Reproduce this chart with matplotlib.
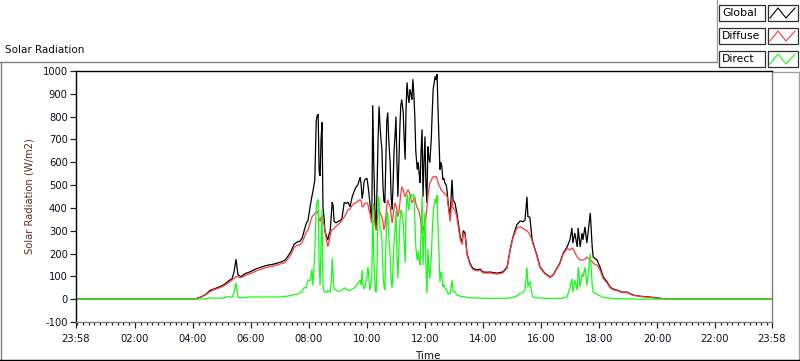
import matplotlib
matplotlib.use("Agg")
import matplotlib.pyplot as plt
from matplotlib.lines import Line2D
from matplotlib.patches import Rectangle
from matplotlib.ticker import FixedLocator, MultipleLocator

plt.rcParams["axes.unicode_minus"] = False

# minutes after midnight, readings of the three sensors (W/m2)
minutes = [-2, 240, 248, 259, 267, 275, 284, 292, 300, 308, 315, 321, 325, 329, 333, 339, 348, 356, 364, 372,
           381, 389, 397, 406, 414, 422, 430, 437, 443, 449, 455, 461, 466, 470, 474, 478, 482, 486, 488, 492,
           495, 497, 499, 501, 503, 505, 507, 509, 511, 513, 517, 519, 521, 524, 526, 528, 530, 532, 536, 540,
           544, 548, 553, 557, 561, 565, 569, 573, 577, 581, 586, 588, 590, 592, 594, 596, 600, 602, 604, 606,
           608, 610, 612, 614, 617, 619, 621, 623, 625, 627, 629, 631, 633, 635, 637, 639, 641, 643, 645, 648,
           650, 652, 654, 656, 658, 660, 662, 664, 666, 668, 670, 672, 675, 677, 679, 681, 683, 685, 687, 689,
           691, 693, 695, 697, 699, 701, 704, 706, 708, 710, 712, 714, 716, 718, 720, 722, 724, 726, 728, 730,
           733, 735, 737, 739, 741, 743, 745, 747, 749, 751, 753, 755, 757, 759, 761, 764, 766, 768, 772, 776,
           778, 782, 786, 788, 793, 797, 799, 803, 807, 813, 819, 828, 834, 840, 849, 855, 869, 881, 890, 896,
           902, 910, 917, 923, 927, 931, 933, 937, 941, 943, 948, 952, 958, 968, 979, 985, 993, 999, 1006, 1014,
           1020, 1024, 1026, 1030, 1035, 1037, 1041, 1045, 1047, 1051, 1055, 1060, 1062, 1066, 1068, 1072, 1076, 1082, 1089, 1097,
           1103, 1109, 1117, 1128, 1138, 1150, 1165, 1186, 1206, 1223, 1438]

global_rad = [0, 0, 3, 12, 22, 38, 45, 52, 58, 70, 82, 90, 120, 175, 108, 98, 112, 118, 126, 134,
              140, 146, 150, 153, 158, 163, 170, 190, 210, 240, 250, 254, 268, 300, 330, 345, 400, 450, 470, 520,
              780, 805, 810, 560, 540, 700, 775, 400, 360, 300, 270, 260, 280, 300, 360, 425, 410, 340, 335, 340,
              345, 350, 425, 420, 425, 405, 445, 470, 490, 500, 535, 500, 440, 470, 515, 525, 530, 500, 465, 420,
              380, 350, 850, 600, 340, 310, 500, 700, 845, 760, 700, 655, 500, 430, 422, 600, 780, 818, 700, 598,
              450, 392, 500, 650, 713, 800, 600, 449, 600, 750, 850, 875, 818, 700, 612, 850, 950, 890, 860, 920,
              900, 875, 964, 900, 800, 650, 568, 600, 550, 510, 650, 744, 449, 600, 713, 500, 422, 669, 620, 598,
              700, 818, 920, 950, 977, 960, 986, 832, 700, 568, 600, 581, 524, 530, 510, 500, 470, 420, 361, 524,
              436, 422, 378, 348, 273, 246, 300, 290, 200, 158, 135, 128, 132, 119, 118, 119, 114, 119, 141, 216,
              273, 326, 343, 339, 348, 449, 361, 360, 273, 250, 216, 190, 141, 114, 97, 106, 136, 158, 202, 229,
              260, 312, 246, 290, 229, 312, 229, 290, 260, 317, 246, 339, 378, 229, 185, 178, 172, 141, 97, 75,
              53, 45, 40, 31, 31, 18, 13, 9, 4, 0, 0]

diffuse_rad = [0, 0, 3, 11, 20, 33, 42, 48, 54, 64, 74, 84, 92, 100, 98, 94, 104, 110, 117, 125,
               131, 137, 142, 145, 150, 155, 160, 178, 197, 226, 236, 238, 250, 270, 292, 305, 330, 360, 365, 375,
               380, 385, 380, 350, 340, 360, 365, 340, 330, 300, 250, 230, 250, 280, 300, 305, 305, 310, 320, 326,
               335, 345, 360, 375, 392, 395, 410, 420, 422, 430, 436, 430, 405, 405, 415, 420, 422, 415, 390, 378,
               350, 334, 420, 410, 322, 300, 330, 390, 400, 378, 370, 360, 340, 304, 320, 360, 410, 436, 420, 405,
               370, 334, 360, 400, 422, 410, 390, 361, 380, 420, 460, 493, 480, 460, 449, 460, 470, 480, 470, 460,
               440, 422, 430, 440, 449, 420, 400, 392, 380, 361, 330, 290, 300, 320, 334, 360, 400, 449, 480, 510,
               520, 530, 537, 535, 537, 537, 530, 510, 500, 493, 480, 475, 470, 466, 462, 455, 449, 410, 340, 440,
               400, 390, 360, 330, 260, 240, 290, 280, 195, 152, 130, 124, 128, 115, 114, 115, 110, 115, 137, 212,
               268, 312, 317, 310, 304, 300, 295, 282, 262, 245, 212, 186, 138, 111, 95, 104, 133, 155, 198, 222,
               216, 224, 222, 205, 185, 180, 172, 172, 172, 175, 185, 175, 172, 165, 158, 152, 150, 128, 90, 70,
               50, 42, 38, 29, 29, 17, 12, 8, 4, 0, 0]

direct_rad = [0, 0, 0, 1, 2, 6, 4, 4, 5, 8, 12, 8, 30, 72, 10, 5, 8, 9, 10, 10,
              9, 10, 9, 10, 9, 10, 12, 14, 16, 20, 22, 26, 35, 52, 48, 85, 80, 130, 60, 200,
              400, 430, 436, 150, 60, 250, 392, 55, 35, 30, 30, 40, 35, 30, 70, 180, 100, 45, 40, 35,
              35, 38, 50, 45, 40, 38, 45, 48, 55, 70, 84, 60, 128, 55, 45, 53, 100, 141, 90, 40,
              60, 100, 420, 180, 40, 30, 170, 449, 440, 300, 300, 257, 120, 60, 40, 230, 360, 380, 280, 190,
              80, 50, 140, 250, 300, 390, 200, 90, 220, 330, 390, 380, 330, 240, 160, 390, 460, 410, 390, 460,
              460, 450, 450, 460, 350, 230, 170, 210, 170, 150, 320, 450, 150, 280, 380, 140, 25, 220, 140, 90,
              180, 290, 380, 415, 440, 420, 456, 320, 200, 75, 120, 105, 55, 64, 48, 45, 30, 25, 22, 84,
              36, 32, 18, 18, 13, 10, 12, 10, 8, 6, 6, 5, 5, 4, 4, 4, 4, 4, 4, 6,
              8, 14, 25, 30, 40, 140, 53, 80, 26, 10, 8, 6, 5, 4, 3, 3, 4, 4, 5, 10,
              50, 90, 30, 84, 40, 141, 53, 110, 97, 140, 60, 160, 200, 60, 30, 26, 22, 15, 8, 6,
              4, 3, 2, 2, 1, 1, 0, 0, 0, 0, 0]

series = [("Global", global_rad, "#000000"),
          ("Diffuse", diffuse_rad, "#ff3c3c"),
          ("Direct", direct_rad, "#12ff12")]

major_minutes = [-2, 120, 240, 360, 480, 600, 720, 840, 960, 1080, 1200, 1320, 1438]
major_labels = ["23:58", "02:00", "04:00", "06:00", "08:00", "10:00", "12:00",
                "14:00", "16:00", "18:00", "20:00", "22:00", "23:58"]

W, H = 800, 361
fig = plt.figure(figsize=(W / 100, H / 100), dpi=100)
fig.patch.set_facecolor("white")


def fx(x):
    return x / W


def fy(y):
    return 1 - y / H


ax = fig.add_axes([fx(76), fy(322), fx(772) - fx(76), fy(71) - fy(322)])
for name, values, color in series:
    ax.plot(minutes, values, color=color, lw=0.9, solid_joinstyle="miter")

ax.set_xlim(-2, 1438)
ax.set_ylim(-100, 1000)
ax.set_yticks(range(-100, 1001, 100))
ax.xaxis.set_major_locator(FixedLocator(major_minutes))
ax.set_xticklabels(major_labels)
ax.xaxis.set_minor_locator(MultipleLocator(12))
ax.tick_params(axis="both", which="major", direction="out", length=4, width=0.9,
               labelsize=7.2, colors="#222222", labelcolor="#101020", pad=2)
ax.tick_params(axis="x", which="minor", direction="out", length=2.5, width=0.9, colors="#222222")
ax.tick_params(axis="x", pad=5)
for side in ("top", "left"):
    ax.spines[side].set_color("black")
    ax.spines[side].set_linewidth(1.0)
for side in ("right", "bottom"):
    ax.spines[side].set_color("#808080")
    ax.spines[side].set_linewidth(1.0)

ax.set_ylabel("Solar Radiation (W/m2)", fontsize=7.2, color="#6b2a1e", labelpad=6)
ax.set_xlabel("Time", fontsize=7.5, color="#101010", labelpad=3)
ax.xaxis.set_label_coords(0.506, -0.115)

fig.text(fx(5), fy(50), "Solar Radiation", fontsize=7.5, va="center", ha="left", color="#101010")

# outer frame of the graph panel
frame = [((0, 62), (717, 62), "#808080"),
         ((0.5, 62), (0.5, 361), "#808080"),
         ((717, 0), (717, 62), "#a0a0a0"),
         ((773, 72), (799, 72), "#a0a0a0"),
         ((799, 72), (799, 361), "#a0a0a0"),
         ((0, 360), (800, 360), "#000000")]
for (x0, y0), (x1, y1), c in frame:
    fig.add_artist(Line2D([fx(x0), fx(x1)], [fy(y0), fy(y1)], color=c, lw=1.0,
                          transform=fig.transFigure))

# legend: name box plus a zigzag sample box per series
for i, (name, values, color) in enumerate(series):
    top = 5 + i * 23
    h = 16
    fig.add_artist(Rectangle((fx(719), fy(top + h)), fx(765) - fx(719), fy(top) - fy(top + h),
                             facecolor="white", edgecolor="#303030", lw=0.9,
                             transform=fig.transFigure))
    fig.text(fx(722), fy(top + h / 2), name, fontsize=7.8, va="center", ha="left", color="black")
    fig.add_artist(Rectangle((fx(768), fy(top + h)), fx(798) - fx(768), fy(top) - fy(top + h),
                             facecolor="white", edgecolor="#303030", lw=0.9,
                             transform=fig.transFigure))
    zx = [770, 778, 786, 795]
    zy = [top + 13, top + 3, top + 13, top + 3]
    fig.add_artist(Line2D([fx(v) for v in zx], [fy(v) for v in zy], color=color, lw=0.8,
                          transform=fig.transFigure))

fig.savefig("out.png", dpi=100, facecolor="white")
